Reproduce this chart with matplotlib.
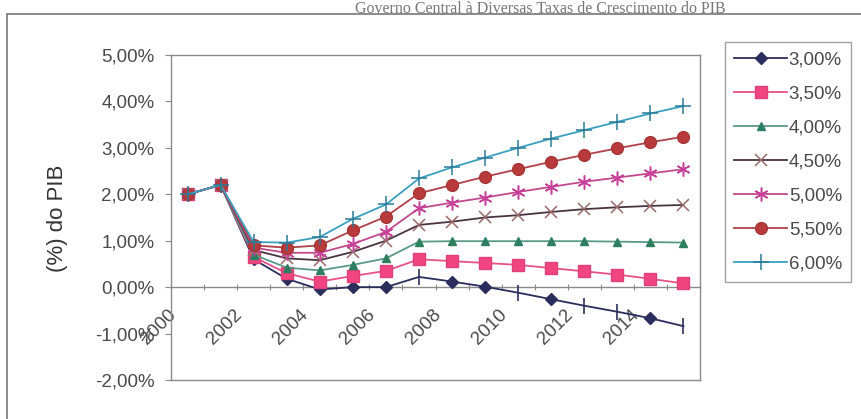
import matplotlib
matplotlib.use("Agg")
import matplotlib.pyplot as plt
from matplotlib.patches import Rectangle
from matplotlib.ticker import FixedLocator, NullFormatter

years = [2000, 2001, 2002, 2003, 2004, 2005, 2006, 2007,
         2008, 2009, 2010, 2011, 2012, 2013, 2014, 2015]
label_years = [2000, 2002, 2004, 2006, 2008, 2010, 2012, 2014]

s300 = [2.00, 2.20, 0.60, 0.18, -0.05, 0.00, 0.00, 0.22, 0.12, 0.01, -0.12, -0.26, -0.40, -0.53, -0.67, -0.84]
s350 = [2.00, 2.20, 0.65, 0.30, 0.12, 0.24, 0.35, 0.60, 0.56, 0.52, 0.48, 0.41, 0.34, 0.27, 0.18, 0.08]
s400 = [2.00, 2.20, 0.70, 0.42, 0.36, 0.48, 0.62, 0.98, 0.99, 0.99, 0.99, 0.99, 0.99, 0.98, 0.97, 0.96]
s450 = [2.00, 2.20, 0.80, 0.62, 0.58, 0.76, 1.00, 1.34, 1.41, 1.50, 1.55, 1.62, 1.68, 1.72, 1.75, 1.77]
s500 = [2.00, 2.20, 0.85, 0.74, 0.74, 0.93, 1.19, 1.70, 1.82, 1.93, 2.05, 2.16, 2.27, 2.36, 2.45, 2.54]
s550 = [2.00, 2.20, 0.90, 0.85, 0.90, 1.22, 1.52, 2.02, 2.20, 2.38, 2.54, 2.70, 2.85, 2.99, 3.12, 3.24]
s600 = [2.00, 2.20, 0.97, 0.96, 1.08, 1.47, 1.78, 2.34, 2.58, 2.79, 3.00, 3.20, 3.38, 3.56, 3.74, 3.90]

series_labels = ["3,00%", "3,50%", "4,00%", "4,50%", "5,00%", "5,50%", "6,00%"]
y_ticks = [-2, -1, 0, 1, 2, 3, 4, 5]
y_tick_labels = ["-2,00%", "-1,00%", "0,00%", "1,00%", "2,00%", "3,00%", "4,00%", "5,00%"]

title = "Governo Central à Diversas Taxas de Crescimento do PIB"
ylabel = "(%) do PIB"

plt.rcParams['font.family'] = ['Liberation Sans', 'DejaVu Sans']
TXT = '#4a4a4a'
GRID = '#8a8a8a'

fig = plt.figure(figsize=(8.61, 4.19), dpi=100)
W, H = 861, 419
ax = fig.add_axes([171 / W, 1 - 380 / H, (700 - 171) / W, (380 - 55) / H])

x = list(range(len(years)))

# 3.00% series: diamonds on some points, vertical tick markers on others
diamond_idx = [0, 1, 2, 3, 4, 5, 6, 8, 9, 11, 14]
bar_idx = [7, 10, 12, 13, 15]
ax.plot(x, s300, color='#2b2d5c', lw=1.3, marker='D', ms=6.5,
        mfc='#2b2d5c', mec='#2b2d5c', markevery=diamond_idx, zorder=3)
ax.plot(x, s300, color='#2b2d5c', lw=0, marker='|', ms=11, mew=1.2,
        markevery=bar_idx, zorder=3)
l300 = ax.plot([], [], color='#2b2d5c', lw=1.3, marker='D', ms=6.5,
               mfc='#2b2d5c', mec='#2b2d5c')[0]

l350 = ax.plot(x, s350, color='#e8508a', lw=1.3, marker='s', ms=8.5,
               mfc='#f0457f', mec='#e0407a', zorder=4)[0]
l400 = ax.plot(x, s400, color='#5a9a84', lw=1.3, marker='^', ms=6,
               mfc='#2e7f62', mec='#2e7f62', zorder=5)[0]
l450 = ax.plot(x, s450, color='#4a3340', lw=1.3, marker='x', ms=9, mew=1.1,
               mec='#9a6a6a', zorder=6)[0]
l500 = ax.plot(x, s500, color='#c24a8c', lw=1.3, marker=(6, 2, 0), ms=10, mew=1.1,
               mec='#c8409a', zorder=7)[0]
l550 = ax.plot(x, s550, color='#b0404a', lw=1.3, marker='o', ms=8.5,
               mfc='#b83a3a', mec='#a83535', zorder=8)[0]
l600 = ax.plot(x, s600, color='#3aa0c0', lw=1.3, marker='+', ms=11, mew=1.1,
               mec='#2a7a9a', zorder=9)[0]

ax.set_xlim(-0.5, len(years) - 0.5)
ax.set_ylim(-2, 5)

for s in ax.spines.values():
    s.set_color(GRID)
    s.set_linewidth(1.0)

ax.set_yticks(y_ticks)
ax.set_yticklabels(y_tick_labels, fontsize=13.5, color=TXT)
ax.tick_params(axis='y', direction='out', length=4, color=GRID, pad=8)
ax.tick_params(axis='x', which='both', bottom=False, labelbottom=False)

# category axis crossing at 0
sec = ax.secondary_xaxis(2 / 7)
sec.spines['bottom'].set_color(GRID)
sec.spines['bottom'].set_linewidth(1.0)
sec.xaxis.set_major_locator(FixedLocator([i - 0.5 for i in range(len(years) + 1)]))
sec.xaxis.set_major_formatter(NullFormatter())
sec.xaxis.set_minor_locator(FixedLocator([years.index(y) - 0.42 for y in label_years]))
sec.set_xticklabels([str(y) for y in label_years], minor=True)
sec.tick_params(axis='x', which='major', direction='inout', length=5, color=GRID)
sec.tick_params(axis='x', which='minor', length=0, pad=18, labelsize=13.5,
                labelcolor=TXT)
for lab in sec.get_xticklabels(minor=True):
    lab.set_rotation(45)
    lab.set_ha('right')
    lab.set_va('center')
    lab.set_rotation_mode('anchor')

fig.text(58 / W, 1 - 218 / H, ylabel, rotation=90, fontsize=16, color='#333333',
         ha='center', va='center')

leg = fig.legend([l300, l350, l400, l450, l500, l550, l600], series_labels,
                 loc='upper left', bbox_to_anchor=(725 / W, 1 - 42 / H),
                 frameon=True, fancybox=False, fontsize=13.5, handlelength=2.8,
                 handletextpad=0.1, labelspacing=0.9, borderpad=0.5,
                 borderaxespad=0)
leg.get_frame().set_edgecolor(GRID)
leg.get_frame().set_linewidth(1.0)
for t in leg.get_texts():
    t.set_color(TXT)

# outer chart border
fig.patches.append(Rectangle((7 / W, -0.05), 1.1, 1 - 14 / H + 0.05,
                             transform=fig.transFigure, fill=False,
                             edgecolor='#777777', lw=1.2))

fig.text(540 / W, 1 - 1 / H, title, fontsize=11.5, family='Liberation Serif',
         color='#777777', ha='center', va='top')

fig.savefig('out.png', dpi=100)
